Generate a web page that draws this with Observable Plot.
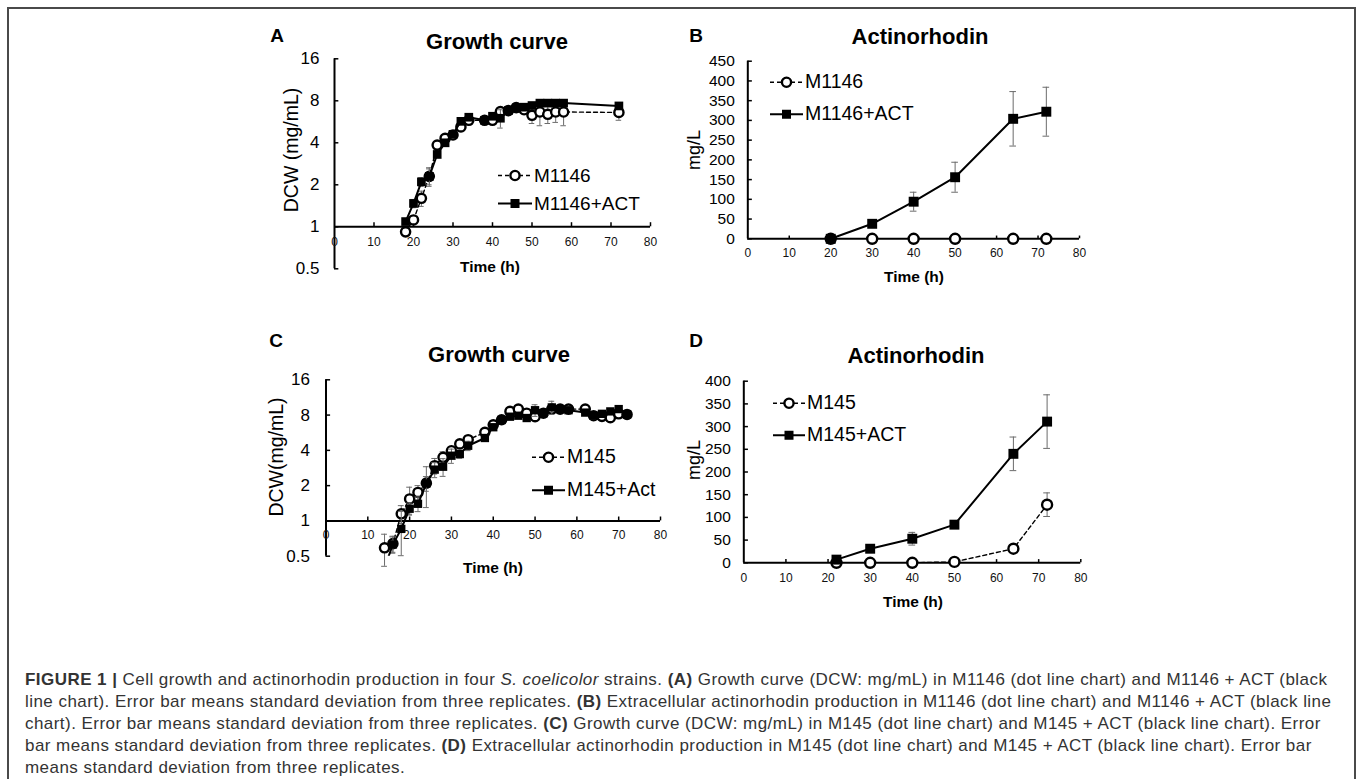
<!DOCTYPE html>
<html><head><meta charset="utf-8">
<script src="https://cdn.jsdelivr.net/npm/d3@7"></script>
<script src="https://cdn.jsdelivr.net/npm/@observablehq/plot@0.6"></script>
<style>
body{margin:0;background:#fff;font-family:"Liberation Sans",Arial,sans-serif;}
#page{position:relative;width:1357px;height:779px;overflow:hidden;background:#fff;}
#frame{position:absolute;left:7px;top:7px;width:1345px;height:820px;border:2px solid #4a4a4a;border-bottom:none;}
.abs{position:absolute;white-space:nowrap;line-height:1;color:#000;}
.title{font-weight:bold;font-size:22px;transform:translate(-50%,-50%);}
.letter{font-weight:bold;font-size:19px;transform:translate(-50%,-50%);}
.xlab{font-weight:bold;font-size:15.5px;transform:translate(-50%,-50%);}
.ylab{font-size:19.5px;transform:translate(-50%,-50%) rotate(-90deg);}
.ylab.small{font-size:18px;}
.leg{display:flex;align-items:center;transform:translateY(-50%);}
.leg svg{display:block;}
#caption{position:absolute;left:25px;top:669px;font-size:17px;letter-spacing:0.45px;line-height:22px;color:#333;white-space:nowrap;}
#caption b{color:#333;}
</style>
</head><body>
<div id="page"><div id="frame"></div></div>
<script>
// ---------- DATA ----------
// Panel A: growth curve, M1146 vs M1146+ACT (DCW mg/mL)
const timeA = [18,20,22,24,26,28,30,32,34,38,40,42,44,46,48,50,52,54,56,58,72];
const dcwM1146 = [0.92,1.12,1.6,2.3,3.85,4.3,4.55,5.2,5.8,5.8,5.8,6.7,6.8,7.15,6.9,6.3,6.65,6.4,6.65,6.65,6.6];
const sdM1146 = [0.05,0.08,0.2,0.35,0.15,0.15,0.15,0.2,0.2,0.2,0.3,0.3,0.3,0.2,0.3,0.8,1.35,0.9,1.05,1.35,0.8];
const dcwM1146ACT = [1.09,1.47,2.1,2.3,3.3,4.0,4.6,5.7,6.1,5.8,6.2,6.0,6.8,7.1,7.2,7.4,7.7,7.7,7.7,7.7,7.35];
const sdM1146ACT = [0.05,0.1,0.15,0.3,0.15,0.15,0.15,0.2,0.2,0.2,0.2,0.9,0.3,0.2,0.3,0.3,0.4,0.4,0.4,0.3,0.3];

// Panel B: actinorhodin (mg/L), M1146 vs M1146+ACT
const timeB = [20,30,40,50,64,72];
const actM1146 = [0,0,0,0,0,0];
const sdActM1146 = [0,0,0,0,0,0];
const actM1146ACT = [0,38,94,156,304,322];
const sdActM1146ACT = [0,4,24,38,69,62];

// Panel C: growth curve, M145 vs M145+Act
const timeC = [14,16,18,20,22,24,26,28,30,32,34,38,40,42,44,46,48,50,52,54,56,58,62,64,66,68,70,72];
const dcwM145 = [0.59,0.64,1.15,1.54,1.75,2.1,2.96,3.49,3.97,4.54,4.93,5.7,6.6,7.3,8.6,9.0,8.3,7.75,8.3,9.0,9.0,9.0,9.0,7.9,7.8,7.6,8.2,8.1];
const sdM145 = [0.18,0.1,0.2,0.4,0.25,0.8,0.45,0.4,0.3,0.3,0.3,0.3,0.5,0.3,0.3,0.3,0.3,0.5,0.4,0.8,0.4,0.5,0.4,0.5,0.3,0.3,0.3,0.3];
const dcwM145Act = [0.4,0.63,0.855,1.27,1.4,2.09,2.74,2.9,3.6,3.72,4.38,5.1,6.3,7.27,7.75,7.9,7.55,8.8,8.3,9.3,9.0,8.8,8.4,7.9,8.2,8.6,9.0,8.1];
const sdM145Act = [0.05,0.1,0.35,0.15,0.2,0.3,0.4,0.5,0.5,0.3,0.4,0.3,0.3,0.3,0.3,0.3,0.3,1.0,0.4,1.2,0.4,0.4,0.3,0.5,0.3,0.3,0.3,0.3];

// Panel D: actinorhodin (mg/L), M145 vs M145+ACT
const timeD = [22,30,40,50,64,72];
const actM145 = [0,0,0,2,31,128];
const sdActM145 = [0,0,0,0,3,26];
const actM145ACT = [7,31,53,84,240,311];
const sdActM145ACT = [1,3,14,4,37,59];

// Axis tick values
const xTicks = [0,10,20,30,40,50,60,70,80];
const yTicksGrowth = [0.5,1,2,4,8,16];
const yTicksB = [0,50,100,150,200,250,300,350,400,450];
const yTicksD = [0,50,100,150,200,250,300,350,400];

// ---------- BUILD ----------
const FONT = "Liberation Sans, Arial, sans-serif";
const rows = (t, v, sd) => t.map((x, i) => ({t: x, v: v[i], sd: sd[i]}));

function panel(cfg) {
  const {left, top, width, height, mL, mR, mT, mB, y, yTicks, xAxisAt, xTickTop, yTickRight, capW,
         yLabDx, yFont, xLabDy, circ, sq, clipLow} = cfg;
  const keep = d => clipLow == null || d.v >= clipLow;
  const errMarks = (data) => {
    const e = data.filter(d => d.sd > 0 && keep(d));
    return [
      Plot.ruleX(e, {x: "t", y1: d => d.v - d.sd, y2: d => d.v + d.sd, stroke: "#6b6b6b", strokeWidth: 1}),
      Plot.ruleY(e, {y: d => d.v + d.sd, x1: d => d.t - capW, x2: d => d.t + capW, stroke: "#6b6b6b", strokeWidth: 1}),
      Plot.ruleY(e, {y: d => d.v - d.sd, x1: d => d.t - capW, x2: d => d.t + capW, stroke: "#6b6b6b", strokeWidth: 1})
    ];
  };
  const marks = [
    Plot.ruleY([xAxisAt], {stroke: "black", strokeWidth: 2}),
    Plot.ruleX([0], {stroke: "black", strokeWidth: 2}),
    Plot.ruleX(xTicks.filter(d => d > 0), {x: d => d, y1: xAxisAt, y2: xTickTop, stroke: "black", strokeWidth: 1.5}),
    Plot.ruleY(yTicks, {y: d => d, x1: 0, x2: yTickRight, stroke: "black", strokeWidth: 1.5}),
    Plot.text(yTicks, {x: 0, y: d => d, text: d => String(d), textAnchor: "end", dx: yLabDx, fontSize: yFont, fill: "black"}),
    Plot.text(xTicks, {x: d => d, y: xAxisAt, text: d => String(d), dy: xLabDy, fontSize: 12, fill: "#111"}),
    ...errMarks(circ),
    Plot.line(circ, {x: "t", y: "v", stroke: "black", strokeWidth: 1.4, strokeDasharray: "4,3", clip: true}),
    Plot.dot(circ.filter(keep), {x: "t", y: "v", r: cfg.cr, fill: "white", stroke: "black", strokeWidth: 2.4}),
    ...errMarks(sq),
    Plot.line(sq, {x: "t", y: "v", stroke: "black", strokeWidth: 2, clip: true}),
    Plot.dot(sq.filter(keep), {x: "t", y: "v", r: cfg.sr, symbol: "square", fill: "black", stroke: "none"})
  ];
  const chart = Plot.plot({
    width, height, marginLeft: mL, marginRight: mR, marginTop: mT, marginBottom: mB,
    x: {domain: [0, 80], axis: null},
    y: {...y, axis: null},
    style: {fontFamily: FONT, overflow: "visible", background: "transparent"},
    marks
  });
  const wrap = document.createElement("div");
  wrap.style.cssText = `position:absolute;left:${left}px;top:${top}px;`;
  wrap.appendChild(chart);
  document.getElementById("page").appendChild(wrap);
}

panel({left: 230, top: 20, width: 460, height: 290, mL: 104, mR: 40, mT: 38.3, mB: 41.7,
  y: {type: "log", base: 2, domain: [0.5, 16]}, yTicks: yTicksGrowth, xAxisAt: 1, xTickTop: 1.07,
  yTickRight: 1.1, capW: 0.7, yLabDx: -15, yFont: 17, xLabDy: 15.5, cr: 4.6, sr: 4.9,
  circ: rows(timeA, dcwM1146, sdM1146), sq: rows(timeA, dcwM1146ACT, sdM1146ACT)});

panel({left: 690, top: 20, width: 420, height: 290, mL: 57.3, mR: 31, mT: 40.7, mB: 71.7,
  y: {domain: [0, 450]}, yTicks: yTicksB, xAxisAt: 0, xTickTop: 7, yTickRight: 1.1, capW: 0.8,
  yLabDx: -13, yFont: 15.5, xLabDy: 14, cr: 5, sr: 5.6,
  circ: rows(timeB, actM1146, sdActM1146), sq: rows(timeB, actM1146ACT, sdActM1146ACT)});

panel({left: 230, top: 330, width: 460, height: 290, mL: 95.5, mR: 30, mT: 49.3, mB: 64.3,
  y: {type: "log", base: 2, domain: [0.5, 16]}, yTicks: yTicksGrowth, xAxisAt: 1, xTickTop: 1.08,
  yTickRight: 1.1, capW: 0.7, yLabDx: -16, yFont: 17, xLabDy: 14.5, cr: 4.6, sr: 4.7, clipLow: 0.5,
  circ: rows(timeC, dcwM145, sdM145), sq: rows(timeC, dcwM145Act, sdM145Act)});

panel({left: 690, top: 330, width: 420, height: 290, mL: 53.3, mR: 29.7, mT: 50.7, mB: 57.7,
  y: {domain: [0, 400]}, yTicks: yTicksD, xAxisAt: 0, xTickTop: 7, yTickRight: 1.1, capW: 0.8,
  yLabDx: -13, yFont: 15.5, xLabDy: 15.5, cr: 5, sr: 5.6,
  circ: rows(timeD, actM145, sdActM145), sq: rows(timeD, actM145ACT, sdActM145ACT)});

// ---------- TEXT ----------
const page = document.getElementById("page");
function label(cls, text, x, y) {
  const d = document.createElement("div");
  d.className = "abs " + cls;
  d.style.left = x + "px"; d.style.top = y + "px";
  d.textContent = text;
  page.appendChild(d);
}
label("letter", "A", 277, 35); label("letter", "B", 696, 35);
label("letter", "C", 276, 340); label("letter", "D", 696, 340);
label("title", "Growth curve", 497, 42); label("title", "Actinorhodin", 920, 37);
label("title", "Growth curve", 499, 355); label("title", "Actinorhodin", 916, 356);
label("xlab", "Time (h)", 490, 267); label("xlab", "Time (h)", 914, 277);
label("xlab", "Time (h)", 493, 568); label("xlab", "Time (h)", 913, 602);
label("ylab", "DCW (mg/mL)", 292, 150); label("ylab small", "mg/L", 694, 150);
label("ylab", "DCW(mg/mL)", 277, 457); label("ylab small", "mg/L", 694, 460);

function legend(x0, x1, y, text, kind, fs) {
  const w = x1 - x0, mid = w / 2;
  const d = document.createElement("div");
  d.className = "abs leg";
  d.style.left = x0 + "px"; d.style.top = y + "px"; d.style.fontSize = fs + "px";
  const sym = kind === "circle"
    ? `<line x1="0" y1="8" x2="${w}" y2="8" stroke="black" stroke-width="1.4" stroke-dasharray="4,3"/><circle cx="${mid}" cy="8" r="4.6" fill="white" stroke="black" stroke-width="2.4"/>`
    : `<line x1="0" y1="8" x2="${w}" y2="8" stroke="black" stroke-width="2"/><rect x="${mid-4.5}" y="3.5" width="9" height="9" fill="black"/>`;
  d.innerHTML = `<svg width="${w}" height="16">${sym}</svg><span style="margin-left:2px">${text}</span>`;
  page.appendChild(d);
}
legend(498, 532, 175, "M1146", "circle", 19);
legend(498, 532, 203, "M1146+ACT", "square", 19);
legend(770, 803, 82, "M1146", "circle", 19.5);
legend(770, 803, 114, "M1146+ACT", "square", 19.5);
legend(532, 565, 457, "M145", "circle", 19.5);
legend(532, 565, 490, "M145+Act", "square", 19.5);
legend(773, 805, 403, "M145", "circle", 19.5);
legend(773, 805, 435, "M145+ACT", "square", 19.5);

const cap = document.createElement("div");
cap.id = "caption";
cap.innerHTML = [
  `<b>FIGURE 1 |</b> Cell growth and actinorhodin production in four <i>S. coelicolor</i> strains. <b>(A)</b> Growth curve (DCW: mg/mL) in M1146 (dot line chart) and M1146 + ACT (black`,
  `line chart). Error bar means standard deviation from three replicates. <b>(B)</b> Extracellular actinorhodin production in M1146 (dot line chart) and M1146 + ACT (black line`,
  `chart). Error bar means standard deviation from three replicates. <b>(C)</b> Growth curve (DCW: mg/mL) in M145 (dot line chart) and M145 + ACT (black line chart). Error`,
  `bar means standard deviation from three replicates. <b>(D)</b> Extracellular actinorhodin production in M145 (dot line chart) and M145 + ACT (black line chart). Error bar`,
  `means standard deviation from three replicates.`
].join("<br>");
page.appendChild(cap);
</script>
</body></html>
